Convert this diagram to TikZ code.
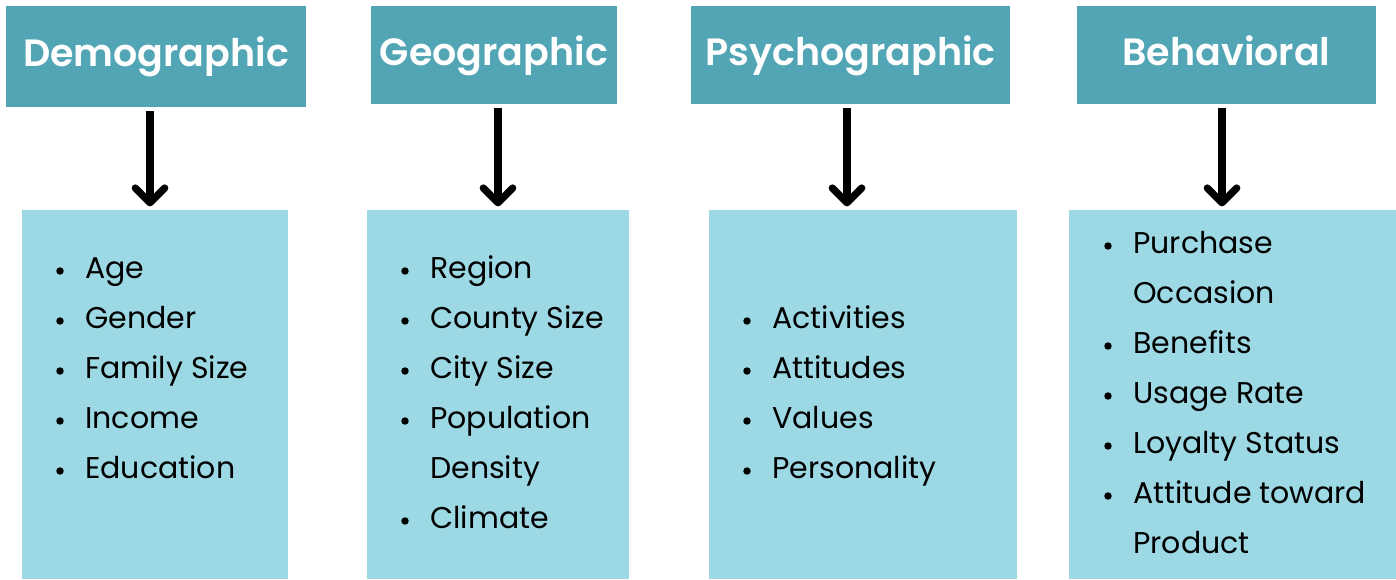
\documentclass[tikz,border=0pt]{standalone}
\usepackage{fontspec}
\setmainfont{Poppins}
\newfontfamily\headfont{Poppins SemiBold}
\usetikzlibrary{arrows.meta}
\definecolor{headteal}{HTML}{52A5B5}
\definecolor{listblue}{HTML}{9DD9E4}
\begin{document}
\begin{tikzpicture}[x=0.75pt,y=-0.75pt,
    head/.style={fill=headteal,text=white,inner sep=0pt,minimum height=73.5pt,
      text height=22.5pt,text depth=7.5pt,font=\fontsize{28.5}{34}\headfont},
    panel/.style={fill=listblue,inner sep=0pt,minimum height=276.75pt},
    item/.style={anchor=base west,inner sep=0pt,font=\fontsize{22.5}{27}\selectfont},
    flow/.style={line width=5.5pt,shorten <=3pt,shorten >=2.5pt,
      -{Straight Barb[length=11pt,width=22pt,round]}},
  ]
  \useasboundingbox (0,0) rectangle (1396,579);
  \node[head,minimum width=225pt,minimum height=75.75pt] (dem) at (156,56.5) {Demographic};
  \node[head,minimum width=184.5pt] (geo) at (494,55) {Geographic};
  \node[head,minimum width=239.25pt] (psy) at (850.5,55) {Psychographic};
  \node[head,minimum width=224.25pt] (beh) at (1226.5,55) {Behavioral};
  \node[panel,minimum width=199.5pt] (dem-box) at (155,394.5) {};
  \node[panel,minimum width=196.5pt] (geo-box) at (498,394.5) {};
  \node[panel,minimum width=231pt] (psy-box) at (863,394.5) {};
  \node[panel,minimum width=245.25pt] (beh-box) at (1232.5,394.5) {};
  \draw[flow] (dem.south -| 150,0) -- (dem-box.north -| 150,0);
  \draw[flow] (geo.south -| 498,0) -- (geo-box.north -| 498,0);
  \draw[flow] (psy.south -| 847,0) -- (psy-box.north -| 847,0);
  \draw[flow] (beh.south -| 1222,0) -- (beh-box.north -| 1222,0);
  \foreach \t/\b [count=\i from 0] in {Age/1,Gender/1,Family Size/1,Income/1,Education/1}{
    \node[item] (dem-\i) at (85,278+50*\i) {\t};
    \ifnum\b=1 \fill (dem-\i.base west) ++(-25,-7) circle (2.8pt); \fi
  }
  \foreach \t/\b [count=\i from 0] in {Region/1,County Size/1,City Size/1,Population/1,Density/0,Climate/1}{
    \node[item] (geo-\i) at (430,278+50*\i) {\t};
    \ifnum\b=1 \fill (geo-\i.base west) ++(-25,-7) circle (2.8pt); \fi
  }
  \foreach \t/\b [count=\i from 0] in {Activities/1,Attitudes/1,Values/1,Personality/1}{
    \node[item] (psy-\i) at (772,328+50*\i) {\t};
    \ifnum\b=1 \fill (psy-\i.base west) ++(-25,-7) circle (2.8pt); \fi
  }
  \foreach \t/\b [count=\i from 0] in {Purchase/1,Occasion/0,Benefits/1,Usage Rate/1,Loyalty Status/1,Attitude toward/1,Product/0}{
    \node[item] (beh-\i) at (1133,253+50*\i) {\t};
    \ifnum\b=1 \fill (beh-\i.base west) ++(-25,-7) circle (2.8pt); \fi
  }
\end{tikzpicture}
\end{document}
